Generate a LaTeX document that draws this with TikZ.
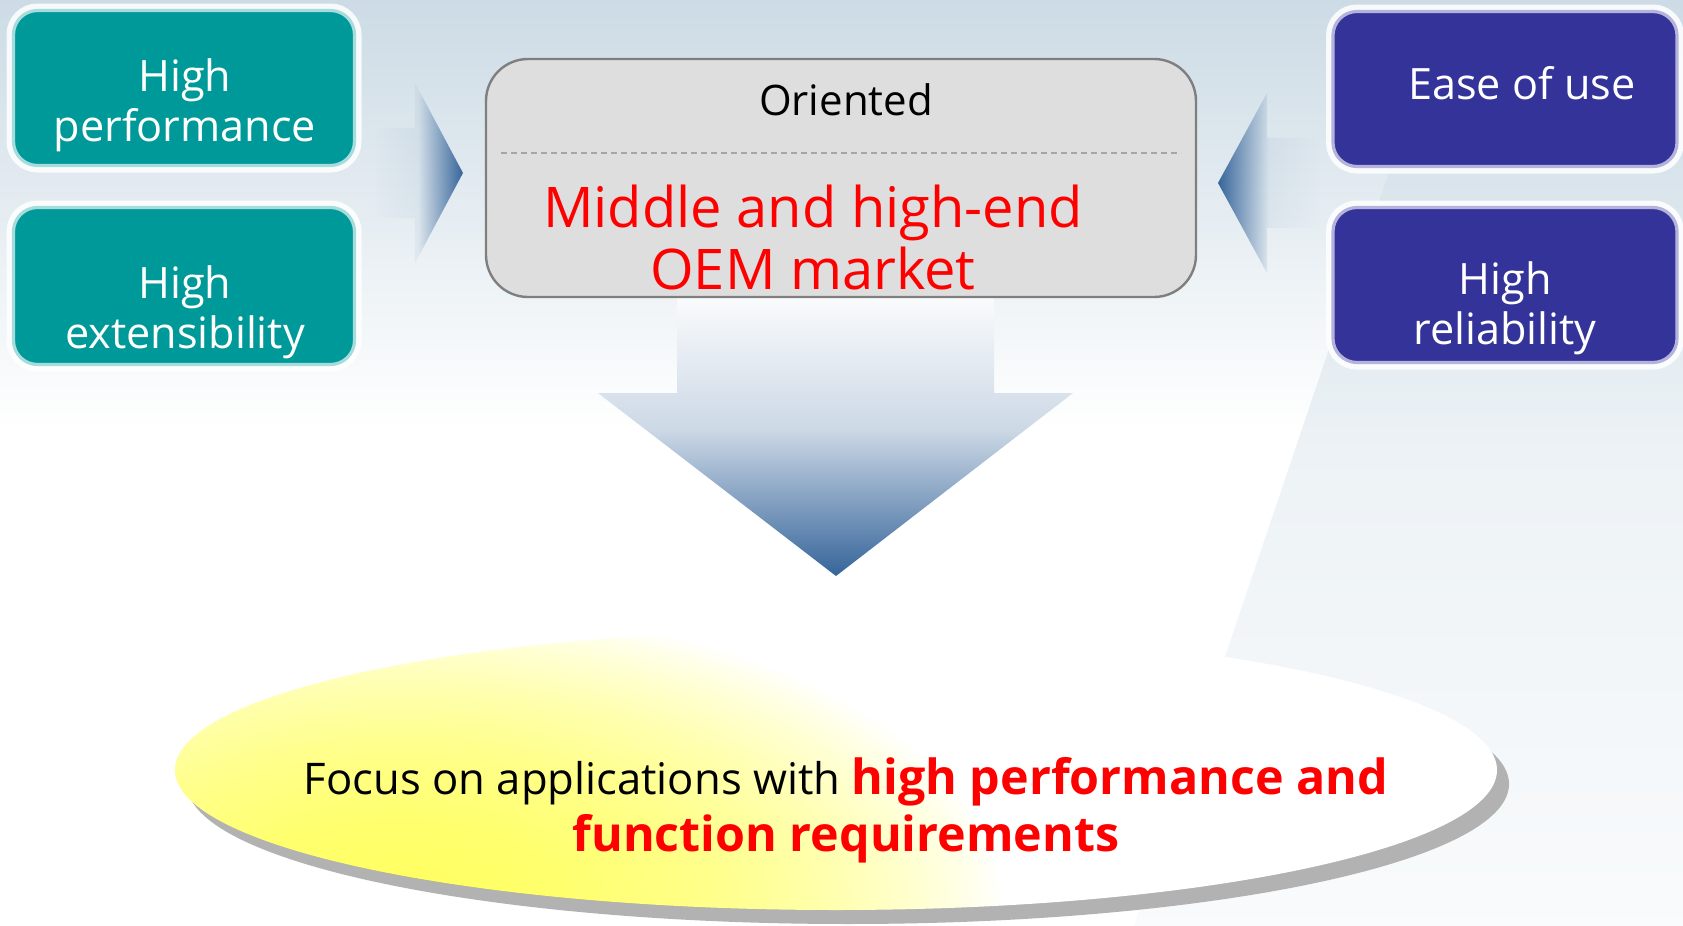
\documentclass[tikz,border=0pt]{standalone}
\usepackage{fontspec}
\setmainfont{Open Sans}
\usetikzlibrary{shapes.geometric,shadows,fadings}

\definecolor{boxteal}{HTML}{009999}
\definecolor{tealrim}{HTML}{A6DCDC}
\definecolor{boxindigo}{HTML}{333399}
\definecolor{indigorim}{HTML}{B3B3DB}
\definecolor{arrowblue}{HTML}{36659A}
\definecolor{oemfill}{HTML}{DEDEDE}
\definecolor{oemrim}{HTML}{7F7F7F}
\definecolor{skyblue}{HTML}{CCDBE5}
\definecolor{focusyellow}{HTML}{FFFF50}

\tikzfading[name=fade to right, left color=transparent!100, right color=transparent!0, middle color=transparent!94]
\tikzfading[name=fade to left, left color=transparent!0, right color=transparent!100, middle color=transparent!94]

\newcommand{\hotword}[1]{{\bfseries\fontsize{24.2}{28.5}\selectfont\color{red}#1}}

\tikzset{
  featbox/.style={rectangle, rounded corners=12pt, line width=1.6pt, minimum height=77.5pt, inner sep=0pt,
    preaction={draw=white, line width=7pt, opacity=.85}},
  tealbox/.style={featbox, fill=boxteal, draw=tealrim, minimum width=170.5pt},
  indigobox/.style={featbox, fill=boxindigo, draw=indigorim, minimum width=172pt},
  boxtext/.style={text=white, font=\fontsize{21.6}{25}\selectfont, align=center, inner sep=0pt},
  oembox/.style={rectangle, rounded corners=21pt, fill=oemfill, draw=oemrim, line width=1.2pt, minimum width=355pt, minimum height=119pt},
  oemtext/.style={text=red, font=\fontsize{28}{31}\selectfont, align=center, inner sep=0pt},
  divider/.style={draw=black!35, line width=.8pt, dash pattern=on 3pt off 2pt},
  focusdisc/.style={ellipse, minimum width=661pt, minimum height=140pt, inner sep=0pt, fill=white,
    path picture={\foreach \k in {1,...,60}
      \fill[focusyellow, opacity=.03] ([shift={(-436,135)}]path picture bounding box.center) ellipse [x radius=10*\k, y radius=5*\k];},
    drop shadow={shadow xshift=6pt, shadow yshift=-7pt, fill=black!30, opacity=1}},
  focustext/.style={font=\fontsize{21.8}{28.5}\selectfont, align=center, inner sep=0pt}
}

\begin{document}
\begin{tikzpicture}[x=0.5pt, y=-0.5pt]
\useasboundingbox (0,0) rectangle (1683,926);
\fill[white] (0,0) rectangle (1683,926);
\shade[top color=skyblue, bottom color=white] (0,0) rectangle (1683,430);
\shade[top color=skyblue, bottom color=skyblue!12!white, middle color=skyblue!35!white] (1447,0) -- (1683,0) -- (1683,926) -- (1134,926) -- cycle;

\fill[arrowblue, path fading=fade to right] (373,128) -- (415,128) -- (415,83) -- (463,173) -- (415,263) -- (415,218) -- (373,218) -- cycle;
\fill[arrowblue, path fading=fade to left] (1320,138) -- (1267,138) -- (1267,93) -- (1218,183) -- (1267,273) -- (1267,228) -- (1320,228) -- cycle;
\shade[top color=white, bottom color=arrowblue, middle color=arrowblue!25!white] (677,282) -- (994,282) -- (994,393) -- (1073,393) -- (836,576) -- (598,393) -- (677,393) -- cycle;

\node[oembox] (oem) at (841,178) {};
\draw[divider] (501,153) -- (1181,153);
\node[font=\fontsize{21}{25}\selectfont, inner sep=0pt] (oriented) at (846,100) {Oriented};
\node[oemtext] (market) at (813,237) {Middle and high-end\\OEM market};

\node[tealbox] (perfbox) at (184,88) {};
\node[boxtext] (perf) at (185,105) {High\\performance};
\node[tealbox, minimum height=78.5pt] (extbox) at (184,286) {};
\node[boxtext] (ext) at (185,312) {High\\extensibility};
\node[indigobox] (easebox) at (1505,89) {};
\node[boxtext] (ease) at (1522,83) {Ease of use};
\node[indigobox] (relbox) at (1505,285) {};
\node[boxtext] (rel) at (1505,308) {High\\reliability};

\node[focusdisc] (focus) at (836,770) {};
\node[focustext] (focuslabel) at (846,810) {Focus on applications with \hotword{high performance and}\\\hotword{function requirements}};
\end{tikzpicture}
\end{document}
